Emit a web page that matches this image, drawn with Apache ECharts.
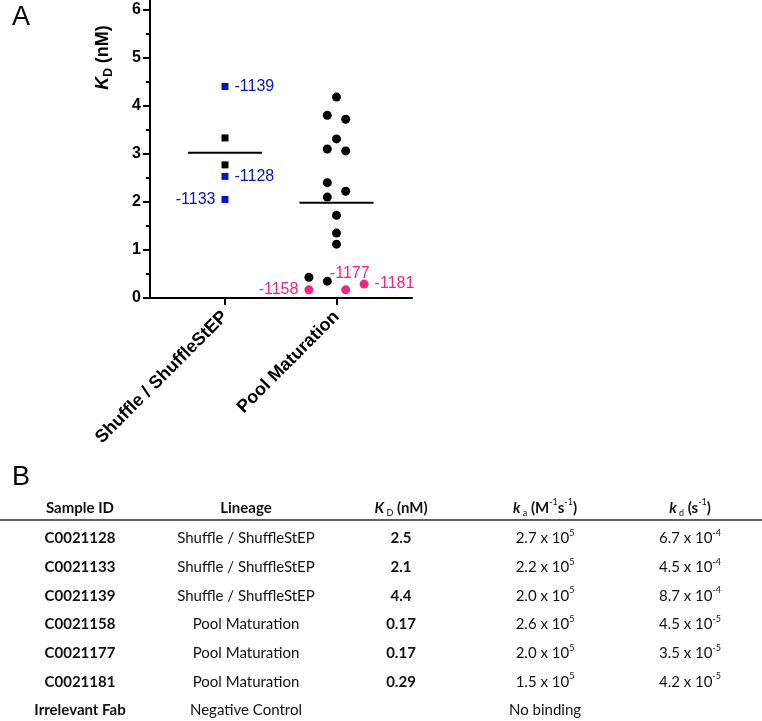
<!DOCTYPE html>
<html><head><meta charset="utf-8">
<script src="https://cdn.jsdelivr.net/npm/echarts@6/dist/echarts.min.js"></script>
<style>html,body{margin:0;padding:0;background:#fff}#c{width:762px;height:721px}</style>
</head><body><div id="c"></div>
<script>
// ---------- data ----------
const categories = ['Shuffle / ShuffleStEP', 'Pool Maturation'];
const yTicks = [0, 1, 2, 3, 4, 5, 6];
const yMinorTicks = [0.5, 1.5, 2.5, 3.5, 4.5, 5.5];

const shuffleBlackKD = [3.33, 2.77];
const shuffleBlueKD = [4.40, 2.53, 2.05];
const shuffleBlueIds = ['-1139', '-1128', '-1133'];

const poolBlackKD = [4.18, 3.80, 3.72, 3.31, 3.10, 3.06, 2.40, 2.22, 2.10, 1.72, 1.35, 1.12, 0.43, 0.35];
const poolBlackSlot = [0, -1, 1, 0, -1, 1, -1, 1, -1, 0, 0, 0, -3, -1];
const poolPinkKD = [0.17, 0.17, 0.29];
const poolPinkSlot = [-3, 1, 3];
const poolPinkIds = ['-1158', '-1177', '-1181'];

const groupMeans = [3.02, 1.98];

const tableSampleIds = ['C0021128', 'C0021133', 'C0021139', 'C0021158', 'C0021177', 'C0021181', 'Irrelevant Fab'];
const tableLineages = ['Shuffle / ShuffleStEP', 'Shuffle / ShuffleStEP', 'Shuffle / ShuffleStEP',
  'Pool Maturation', 'Pool Maturation', 'Pool Maturation', 'Negative Control'];
const tableKD = ['2.5', '2.1', '4.4', '0.17', '0.17', '0.29'];
const tableKaMantissa = ['2.7', '2.2', '2.0', '2.6', '2.0', '1.5'];
const tableKaExponent = [5, 5, 5, 5, 5, 5];
const tableKdMantissa = ['6.7', '4.5', '8.7', '4.5', '3.5', '4.2'];
const tableKdExponent = [-4, -4, -4, -5, -5, -5];
const tableNote = 'No binding';

// ---------- style / layout ----------
const AF = 'Liberation Sans, Arial, Helvetica, sans-serif';
const TF = 'Lato, Carlito, Calibri, sans-serif';
const BLUE = '#0a14c0';
const PINK = '#f2267c';
const SLOT = 0.0825;
const MEAN_HALF = 0.332;
const blueLabelPos = ['right', 'right', 'left'];
const pinkLabelPos = ['left', 'top', 'right'];
const pinkLabelOffset = [[0, 0], [4, 2], [0, 0]];

const labelBase = { show: true, fontFamily: AF, fontSize: 16, distance: 6 };

const series = [];
groupMeans.forEach((m, g) => {
  series.push({
    type: 'line', silent: true, symbol: 'none', z: 1,
    lineStyle: { color: '#000', width: 2, opacity: 1 },
    data: [[g + 1 - MEAN_HALF, m], [g + 1 + MEAN_HALF, m]]
  });
});
series.push({
  type: 'scatter', symbol: 'rect', symbolSize: 7, itemStyle: { color: '#000', opacity: 1 }, z: 3,
  data: shuffleBlackKD.map(v => [1, v])
});
series.push({
  type: 'scatter', symbol: 'rect', symbolSize: 7, itemStyle: { color: BLUE, opacity: 1 }, z: 3,
  data: shuffleBlueKD.map((v, i) => ({
    value: [1, v],
    label: Object.assign({}, labelBase, { formatter: shuffleBlueIds[i], position: blueLabelPos[i], color: BLUE })
  }))
});
series.push({
  type: 'scatter', symbol: 'circle', symbolSize: 9, itemStyle: { color: '#000', opacity: 1 }, z: 3,
  data: poolBlackKD.map((v, i) => [2 + poolBlackSlot[i] * SLOT, v])
});
series.push({
  type: 'scatter', symbol: 'circle', symbolSize: 9, itemStyle: { color: PINK, opacity: 1 }, z: 4,
  data: poolPinkKD.map((v, i) => ({
    value: [2 + poolPinkSlot[i] * SLOT, v],
    label: Object.assign({}, labelBase, { formatter: poolPinkIds[i], position: pinkLabelPos[i], offset: pinkLabelOffset[i], color: PINK })
  }))
});

// ---------- table graphics ----------
const colX = [80, 246, 401, 545, 690];
const headerY = 508;
const ruleY = 520;
const rowY0 = 538.5, rowStep = 28.65;
const TS = 15;
const rich = {
  r: { fontFamily: TF, fontSize: TS, fill: '#111', lineHeight: 20 },
  b: { fontFamily: TF, fontSize: TS, fontWeight: 'bold', fill: '#111', lineHeight: 20 },
  bi: { fontFamily: TF, fontSize: TS, fontWeight: 'bold', fontStyle: 'italic', fill: '#111', lineHeight: 20 },
  sub: { fontFamily: TF, fontSize: 9, fill: '#111', verticalAlign: 'bottom', lineHeight: 11 },
  sup: { fontFamily: TF, fontSize: 9, fill: '#111', verticalAlign: 'top', lineHeight: 9 }
};
function tText(x, y, text) {
  return {
    type: 'text', x: x, y: y, silent: true,
    style: { text: text, rich: rich, align: 'center', verticalAlign: 'middle',
             textAlign: 'center', textVerticalAlign: 'middle', fontFamily: TF, fontSize: TS, fill: '#111' }
  };
}
const graphics = [];
graphics.push({ type: 'text', x: 21, y: 18, silent: true,
  style: { text: 'A', fontFamily: AF, fontSize: 27, fill: '#000', align: 'center', verticalAlign: 'middle', textAlign: 'center', textVerticalAlign: 'middle' } });
graphics.push({ type: 'text', x: 21, y: 477.5, silent: true,
  style: { text: 'B', fontFamily: AF, fontSize: 27, fill: '#000', align: 'center', verticalAlign: 'middle', textAlign: 'center', textVerticalAlign: 'middle' } });
graphics.push({ type: 'text', x: 103.5, y: 57.5, rotation: Math.PI / 2, silent: true,
  style: { text: '{k|K}{s|D}{b| (nM)}', align: 'center', verticalAlign: 'middle', textAlign: 'center', textVerticalAlign: 'middle',
    rich: {
      k: { fontFamily: AF, fontSize: 18, fontWeight: 'bold', fontStyle: 'italic', fill: '#000', lineHeight: 22 },
      s: { fontFamily: AF, fontSize: 12, fontWeight: 'bold', fill: '#000', verticalAlign: 'bottom', lineHeight: 12 },
      b: { fontFamily: AF, fontSize: 18, fontWeight: 'bold', fill: '#000', lineHeight: 22 }
    } } });

graphics.push(tText(colX[0], headerY, '{b|Sample ID}'));
graphics.push(tText(colX[1], headerY, '{b|Lineage}'));
graphics.push(tText(colX[2], headerY, '{bi|K}{sub| D}{b| (nM)}'));
graphics.push(tText(colX[3], headerY, '{bi|k}{sub| a}{b| (M}{sup|-1}{b|s}{sup|-1}{b|)}'));
graphics.push(tText(colX[4], headerY, '{bi|k}{sub| d}{b| (s}{sup|-1}{b|)}'));
graphics.push({ type: 'line', silent: true, shape: { x1: 0, y1: ruleY, x2: 762, y2: ruleY },
  style: { stroke: '#2a2a2a', lineWidth: 1.5 } });

tableSampleIds.forEach((id, i) => {
  const y = rowY0 + i * rowStep;
  graphics.push(tText(colX[0], y, '{b|' + id + '}'));
  graphics.push(tText(colX[1], y, '{r|' + tableLineages[i] + '}'));
  if (i < tableKD.length) {
    graphics.push(tText(colX[2], y, '{b|' + tableKD[i] + '}'));
    graphics.push(tText(colX[3], y, '{r|' + tableKaMantissa[i] + ' x 10}{sup|' + tableKaExponent[i] + '}'));
    graphics.push(tText(colX[4], y, '{r|' + tableKdMantissa[i] + ' x 10}{sup|' + tableKdExponent[i] + '}'));
  } else {
    graphics.push(tText(colX[3], y, '{r|' + tableNote + '}'));
  }
});

const chart = echarts.init(document.getElementById('c'), null, { renderer: 'canvas' });
chart.setOption({
  animation: false,
  backgroundColor: '#fff',
  grid: { left: 150, right: 350, top: 0, bottom: 423, containLabel: false },
  xAxis: {
    type: 'value', min: 0.3274, max: 2.677,
    axisLine: { show: true, onZero: false, lineStyle: { color: '#000', width: 2 } },
    axisTick: { show: true, customValues: [1, 2], length: 7, lineStyle: { color: '#000', width: 2 } },
    axisLabel: { show: true, customValues: [1, 2], formatter: v => categories[Math.round(v) - 1],
      rotate: 45, margin: 16, fontFamily: AF, fontSize: 18, fontWeight: 'bold', color: '#000' },
    splitLine: { show: false }
  },
  yAxis: [{
    type: 'value', min: 0, max: 6.2, position: 'left',
    axisLine: { show: true, onZero: false, lineStyle: { color: '#000', width: 2 } },
    axisTick: { show: true, customValues: yTicks, length: 7, lineStyle: { color: '#000', width: 2 } },
    axisLabel: { show: true, customValues: yTicks, margin: 9, fontFamily: AF, fontSize: 16, fontWeight: 'bold', color: '#000' },
    splitLine: { show: false }
  }, {
    type: 'value', min: 0, max: 6.2, position: 'left',
    axisLine: { show: false, onZero: false },
    axisTick: { show: true, customValues: yMinorTicks, length: 4, lineStyle: { color: '#000', width: 2 } },
    axisLabel: { show: false },
    splitLine: { show: false }
  }],
  series: series,
  graphic: { elements: graphics }
});
</script>
</body></html>
